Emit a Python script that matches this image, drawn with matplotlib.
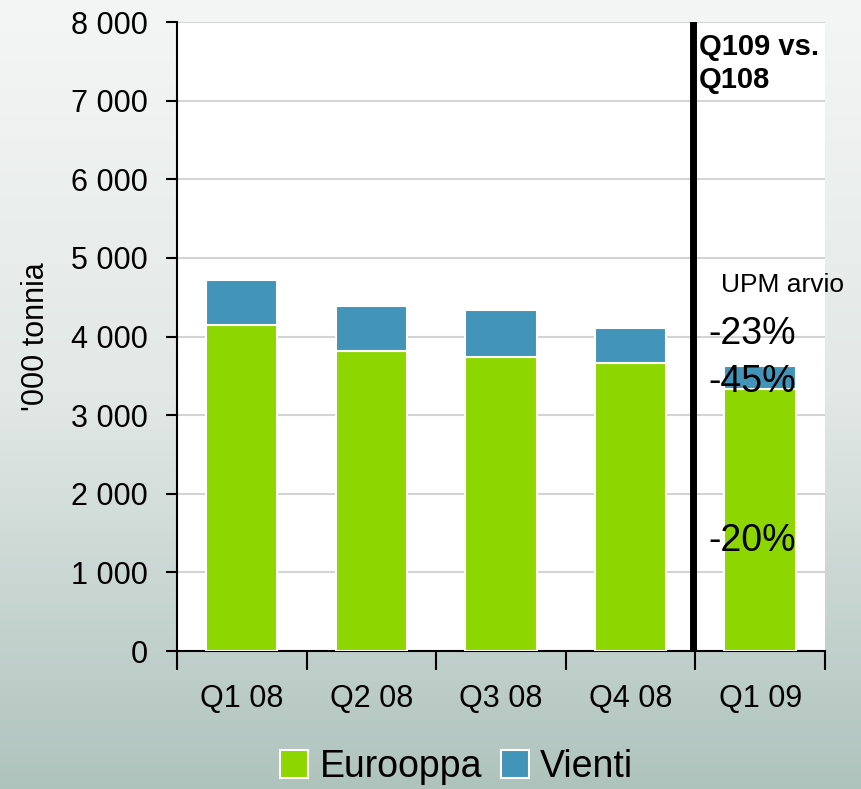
import numpy as np
import matplotlib.pyplot as plt
from matplotlib.colors import LinearSegmentedColormap

plt.rcParams["font.family"] = ["Liberation Sans", "DejaVu Sans"]

quarters = ["Q1 08", "Q2 08", "Q3 08", "Q4 08", "Q1 09"]
eurooppa = [4150, 3820, 3740, 3665, 3335]
vienti = [570, 570, 600, 445, 290]

green = "#8ED600"
blue = "#4294B9"

fig = plt.figure(figsize=(8.62, 7.89), dpi=100)

# gradient background
bg = fig.add_axes([0, 0, 1, 1], zorder=0)
cmap = LinearSegmentedColormap.from_list("bg", ["#f4f6f5", "#e2e8e6", "#afc3bd"])
grad = np.linspace(0, 1, 256).reshape(-1, 1)
bg.imshow(grad, aspect="auto", cmap=cmap, extent=[0, 1, 0, 1])
bg.axis("off")

ax = fig.add_axes([0.2053, 0.1749, 0.7517, 0.7972], zorder=1)
ax.set_facecolor("white")

x = np.arange(len(quarters))
ax.bar(x, eurooppa, width=0.55, color=green, edgecolor="white", linewidth=1.5,
       label="Eurooppa", zorder=3)
ax.bar(x, vienti, width=0.55, bottom=eurooppa, color=blue, edgecolor="white",
       linewidth=1.5, label="Vienti", zorder=3)

ax.set_xlim(-0.5, 4.5)
ax.set_ylim(0, 8000)
ax.set_yticks(range(0, 8001, 1000))
ax.set_yticklabels([f"{v:,}".replace(",", " ") for v in range(0, 8001, 1000)])
ax.yaxis.grid(True, color="#d4d4d4", linewidth=1.5, zorder=1)
ax.set_axisbelow(True)

ax.set_xticks(x)
ax.set_xticklabels(quarters)
ax.set_xticks(np.arange(-0.5, 4.6, 1), minor=True)
ax.tick_params(axis="x", which="major", length=0, pad=24, labelsize=22)
ax.tick_params(axis="x", which="minor", length=14, width=1.5, direction="out")
ax.tick_params(axis="y", length=8, width=1.5, labelsize=22, pad=13)

for s in ["top", "right"]:
    ax.spines[s].set_visible(False)
for s in ["left", "bottom"]:
    ax.spines[s].set_linewidth(1.5)

ax.set_ylabel("'000 tonnia", fontsize=22, labelpad=14)

ax.axvline(3.48, ymin=0, ymax=0.995, color="black", linewidth=5, zorder=4)

ax.text(3.53, 7470, "Q109 vs.\nQ108", fontsize=21, fontweight="bold",
        va="center", ha="left", linespacing=1.2, zorder=5, clip_on=False)
ax.text(3.7, 4660, "UPM arvio", fontsize=19, va="center", ha="left", zorder=5,
        clip_on=False)
ax.text(3.6, 4030, "-23%", fontsize=27, va="center", ha="left", zorder=5)
ax.text(3.6, 3420, "-45%", fontsize=27, va="center", ha="left", zorder=5)
ax.text(3.6, 1400, "-20%", fontsize=27, va="center", ha="left", zorder=5)

fig.legend(loc="lower center", bbox_to_anchor=(0.53, -0.038), ncol=2,
           frameon=False, fontsize=27, handlelength=0.75, handleheight=0.75,
           handletextpad=0.3, columnspacing=0.5)

fig.savefig("out.png", dpi=100)
